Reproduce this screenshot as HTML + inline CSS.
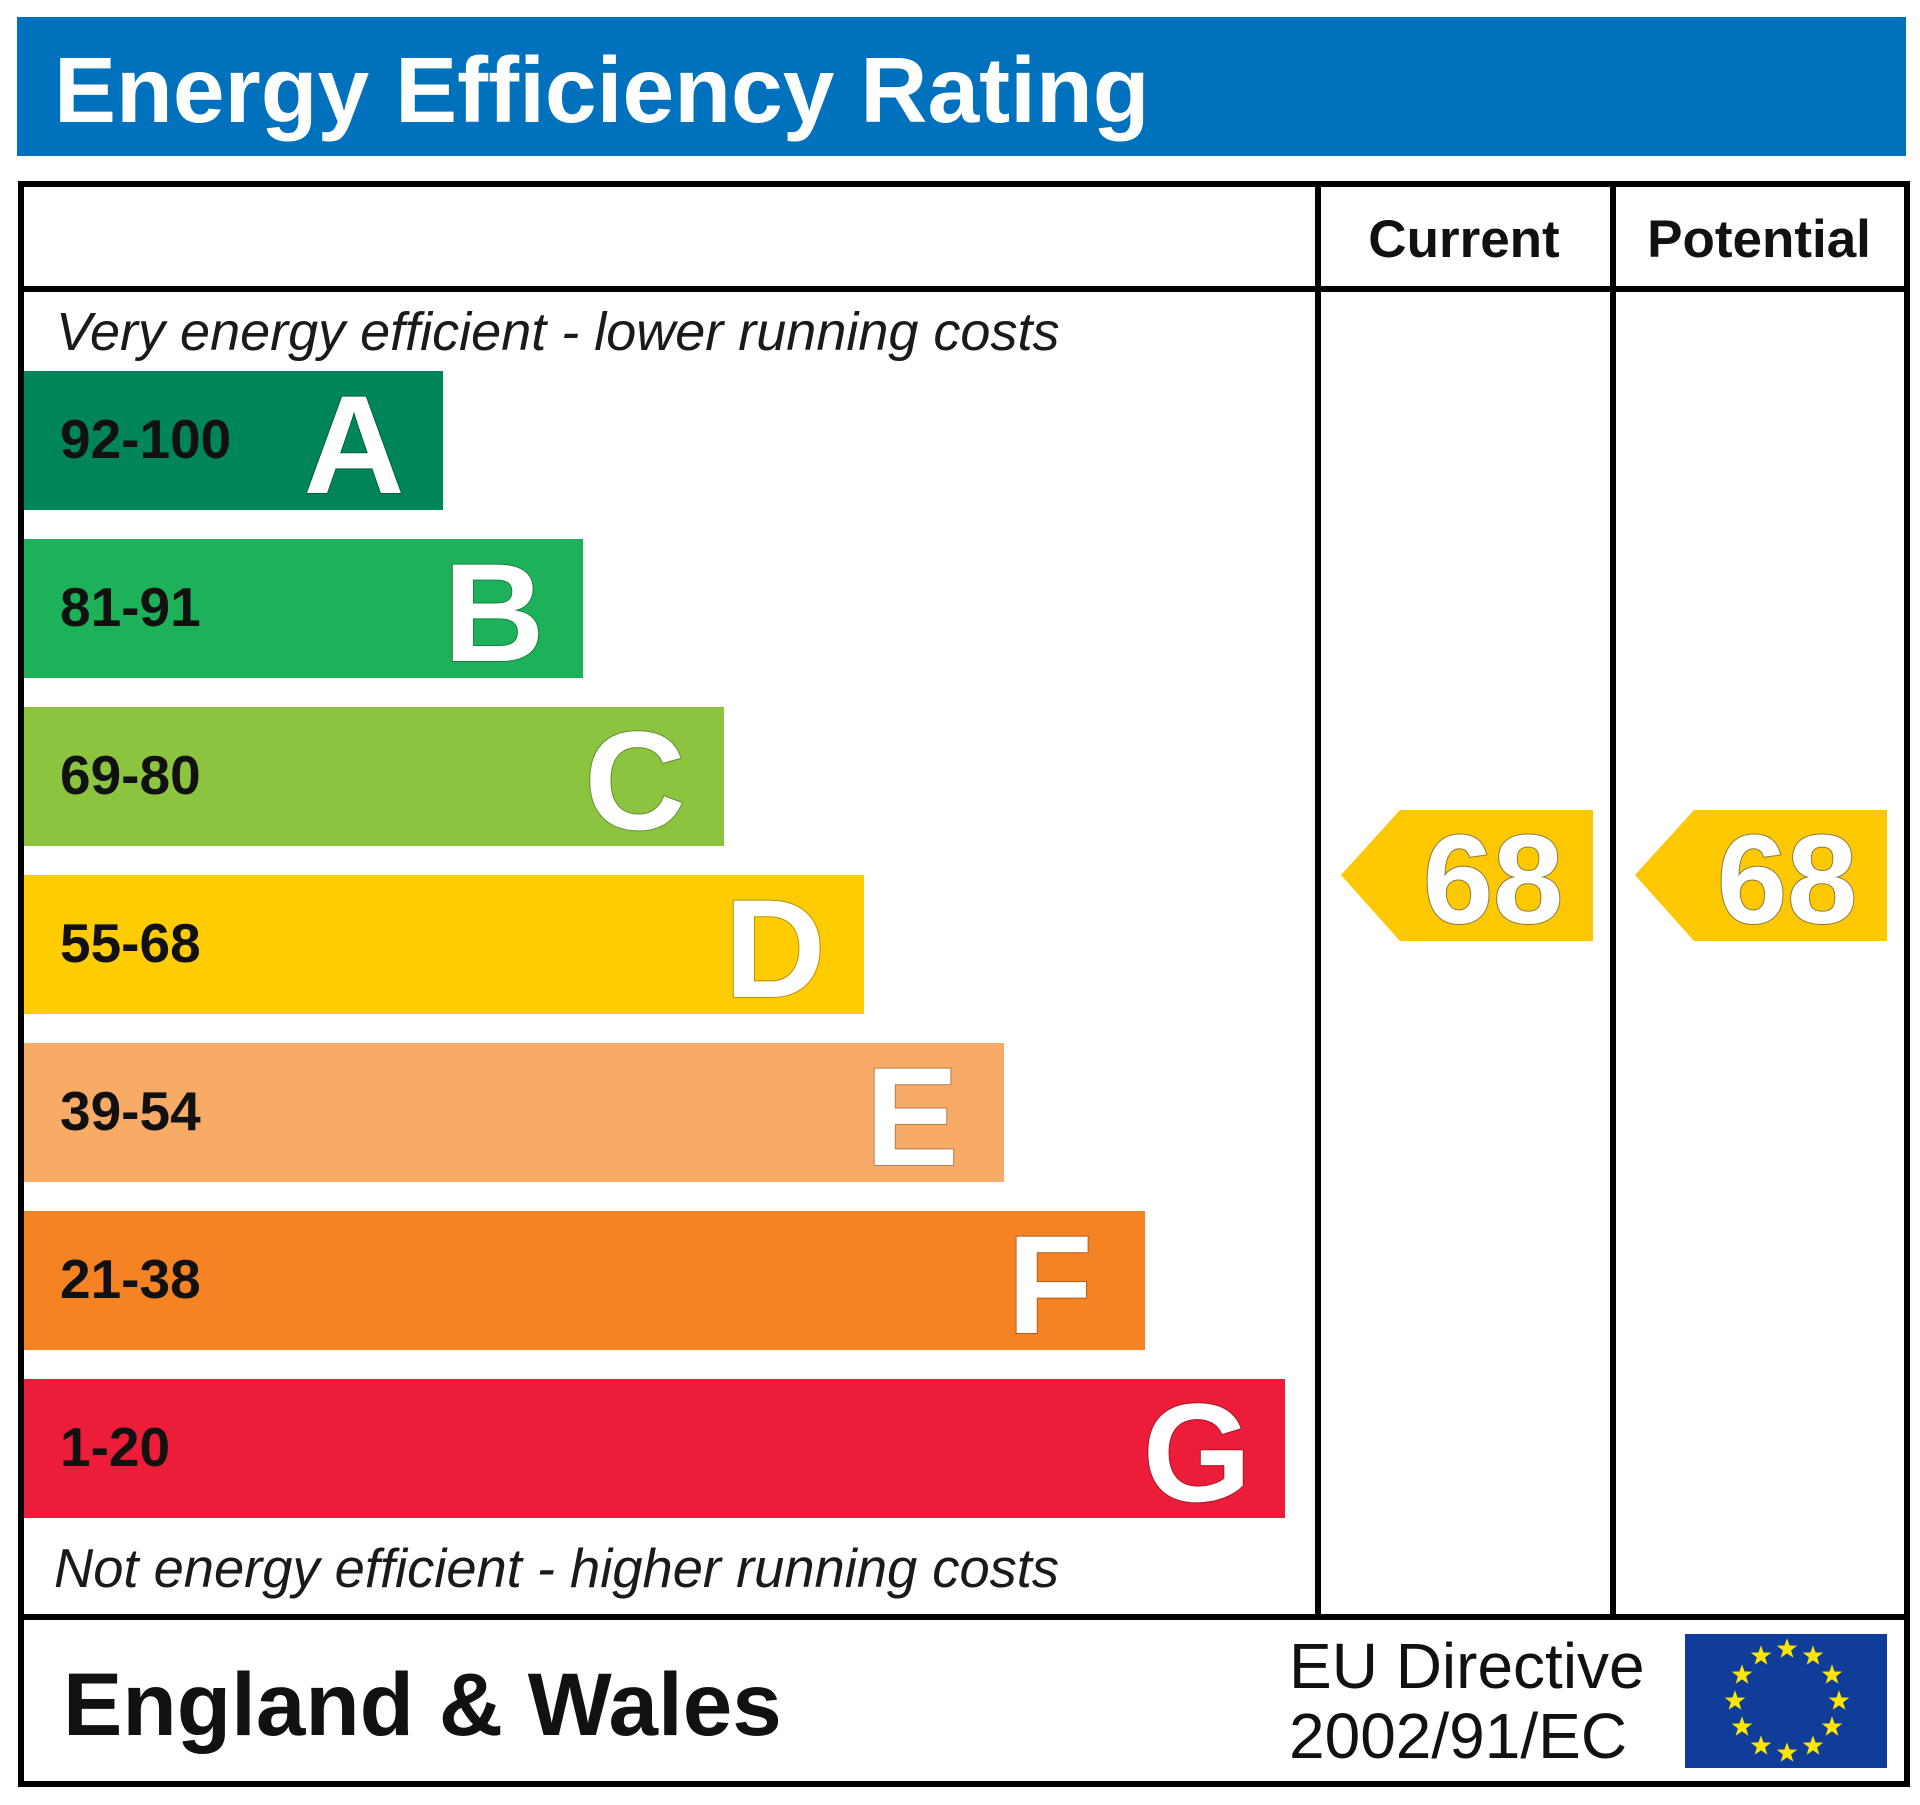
<!DOCTYPE html>
<html>
<head>
<meta charset="utf-8">
<style>
  html, body { margin: 0; padding: 0; background: #ffffff; }
  svg { display: block; }
  text { font-family: "Liberation Sans", Arial, sans-serif; }
</style>
</head>
<body>
<svg xmlns="http://www.w3.org/2000/svg" width="1920" height="1805" viewBox="0 0 1920 1805">
  <rect x="0" y="0" width="1920" height="1805" fill="#ffffff"/>

  <!-- Header bar -->
  <rect x="17" y="17" width="1889" height="139" fill="#0071bc"/>
  <text x="54" y="122" font-size="93" font-weight="bold" fill="#ffffff">Energy Efficiency Rating</text>

  <!-- Bands -->
  <rect x="24" y="371" width="419" height="139" fill="#00855a"/>
  <rect x="24" y="539" width="559" height="139" fill="#1db25a"/>
  <rect x="24" y="707" width="700" height="139" fill="#8cc43f"/>
  <rect x="24" y="875" width="840" height="139" fill="#ffcc00"/>
  <rect x="24" y="1043" width="980" height="139" fill="#f8ab67"/>
  <rect x="24" y="1211" width="1121" height="139" fill="#f58223"/>
  <rect x="24" y="1379" width="1261" height="139" fill="#ed1c39"/>

  <!-- Range labels -->
  <g font-size="55" font-weight="bold" fill="#111111">
    <text x="60" y="458">92-100</text>
    <text x="60" y="626">81-91</text>
    <text x="60" y="794">69-80</text>
    <text x="60" y="962">55-68</text>
    <text x="60" y="1130">39-54</text>
    <text x="60" y="1298">21-38</text>
    <text x="60" y="1466">1-20</text>
  </g>

  <!-- Band letters -->
  <g font-size="140" font-weight="bold" fill="#ffffff" text-anchor="middle" stroke="rgba(0,0,0,0.28)" stroke-width="2" paint-order="stroke">
    <text x="354" y="493">A</text>
    <text x="494" y="661">B</text>
    <text x="635" y="829">C</text>
    <text x="775" y="997">D</text>
    <text x="912" y="1165">E</text>
    <text x="1050" y="1333">F</text>
    <text x="1197" y="1501">G</text>
  </g>

  <!-- Italic captions -->
  <text x="56" y="350" font-size="54" font-style="italic" fill="#1a1a1a">Very energy efficient - lower running costs</text>
  <text x="54" y="1587" font-size="54.3" font-style="italic" fill="#1a1a1a">Not energy efficient - higher running costs</text>

  <!-- Column headers -->
  <text x="1464" y="257" font-size="53" font-weight="bold" fill="#111111" text-anchor="middle">Current</text>
  <text x="1759" y="257" font-size="53" font-weight="bold" fill="#111111" text-anchor="middle">Potential</text>

  <!-- Arrows -->
  <polygon points="1341,875 1400,810 1593,810 1593,941 1400,941" fill="#fdc800"/>
  <polygon points="1635,875 1694,810 1887,810 1887,941 1694,941" fill="#fdc800"/>
  <g font-size="126" font-weight="bold" fill="#ffffff" stroke="#8a7a40" stroke-width="2" paint-order="stroke">
    <text x="1423" y="923">68</text>
    <text x="1717" y="923">68</text>
  </g>

  <!-- Footer -->
  <text x="63" y="1735" font-size="89" font-weight="bold" fill="#111111">England &amp; Wales</text>
  <text x="1289" y="1688" font-size="64" fill="#111111">EU Directive</text>
  <text x="1289" y="1758" font-size="64" fill="#111111">2002/91/EC</text>

  <!-- EU flag -->
  <rect x="1685" y="1634" width="202" height="134" fill="#103d9a"/>
  <g fill="#ffe500">
    <polygon transform="translate(1787,1649) scale(1.2)" points="0,-9 2.12,-2.91 8.56,-2.78 3.42,1.11 5.29,7.28 0,3.6 -5.29,7.28 -3.42,1.11 -8.56,-2.78 -2.12,-2.91"/>
    <polygon transform="translate(1813,1656) scale(1.2)" points="0,-9 2.12,-2.91 8.56,-2.78 3.42,1.11 5.29,7.28 0,3.6 -5.29,7.28 -3.42,1.11 -8.56,-2.78 -2.12,-2.91"/>
    <polygon transform="translate(1832,1675) scale(1.2)" points="0,-9 2.12,-2.91 8.56,-2.78 3.42,1.11 5.29,7.28 0,3.6 -5.29,7.28 -3.42,1.11 -8.56,-2.78 -2.12,-2.91"/>
    <polygon transform="translate(1839,1701) scale(1.2)" points="0,-9 2.12,-2.91 8.56,-2.78 3.42,1.11 5.29,7.28 0,3.6 -5.29,7.28 -3.42,1.11 -8.56,-2.78 -2.12,-2.91"/>
    <polygon transform="translate(1832,1727) scale(1.2)" points="0,-9 2.12,-2.91 8.56,-2.78 3.42,1.11 5.29,7.28 0,3.6 -5.29,7.28 -3.42,1.11 -8.56,-2.78 -2.12,-2.91"/>
    <polygon transform="translate(1813,1746) scale(1.2)" points="0,-9 2.12,-2.91 8.56,-2.78 3.42,1.11 5.29,7.28 0,3.6 -5.29,7.28 -3.42,1.11 -8.56,-2.78 -2.12,-2.91"/>
    <polygon transform="translate(1787,1753) scale(1.2)" points="0,-9 2.12,-2.91 8.56,-2.78 3.42,1.11 5.29,7.28 0,3.6 -5.29,7.28 -3.42,1.11 -8.56,-2.78 -2.12,-2.91"/>
    <polygon transform="translate(1761,1746) scale(1.2)" points="0,-9 2.12,-2.91 8.56,-2.78 3.42,1.11 5.29,7.28 0,3.6 -5.29,7.28 -3.42,1.11 -8.56,-2.78 -2.12,-2.91"/>
    <polygon transform="translate(1742,1727) scale(1.2)" points="0,-9 2.12,-2.91 8.56,-2.78 3.42,1.11 5.29,7.28 0,3.6 -5.29,7.28 -3.42,1.11 -8.56,-2.78 -2.12,-2.91"/>
    <polygon transform="translate(1735,1701) scale(1.2)" points="0,-9 2.12,-2.91 8.56,-2.78 3.42,1.11 5.29,7.28 0,3.6 -5.29,7.28 -3.42,1.11 -8.56,-2.78 -2.12,-2.91"/>
    <polygon transform="translate(1742,1675) scale(1.2)" points="0,-9 2.12,-2.91 8.56,-2.78 3.42,1.11 5.29,7.28 0,3.6 -5.29,7.28 -3.42,1.11 -8.56,-2.78 -2.12,-2.91"/>
    <polygon transform="translate(1761,1656) scale(1.2)" points="0,-9 2.12,-2.91 8.56,-2.78 3.42,1.11 5.29,7.28 0,3.6 -5.29,7.28 -3.42,1.11 -8.56,-2.78 -2.12,-2.91"/>
  </g>

  <!-- Table lines -->
  <g stroke="#000000" stroke-width="6" fill="none">
    <line x1="21" y1="289" x2="1907" y2="289"/>
    <line x1="21" y1="1617" x2="1907" y2="1617"/>
    <line x1="1318" y1="184" x2="1318" y2="1617"/>
    <line x1="1613" y1="184" x2="1613" y2="1617"/>
    <rect x="21" y="184" width="1886" height="1600"/>
  </g>
</svg>
</body>
</html>
